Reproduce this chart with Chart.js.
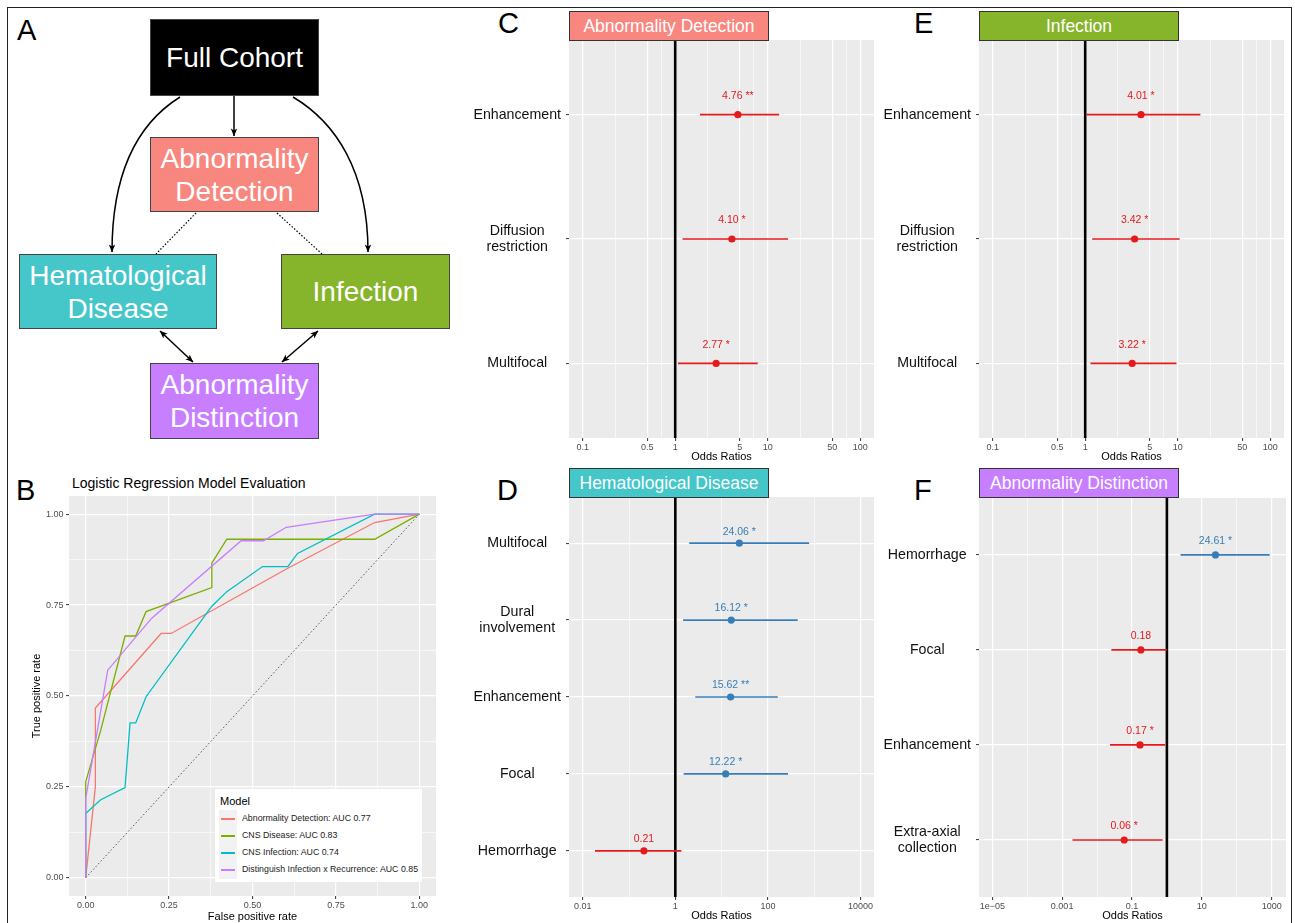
<!DOCTYPE html>
<html>
<head>
<meta charset="utf-8">
<script src="https://cdn.jsdelivr.net/npm/chart.js@4.4.1/dist/chart.umd.min.js"></script>
<style>
  body { margin: 0; background: #fff; font-family: 'Liberation Sans', Arial, Helvetica, sans-serif; }
  #page { position: relative; width: 1295px; height: 923px; overflow: hidden; }
  .frame { position: absolute; left: 7px; top: 7px; width: 1285px; height: 940px; border: 1.5px solid #222; box-sizing: border-box; }
  .tag { position: absolute; font-size: 29px; line-height: 29px; color: #000; }
  .box { position: absolute; box-sizing: border-box; border: 1px solid #444; color: #fff; font-size: 28px; line-height: 33px;
         display: flex; align-items: center; justify-content: center; text-align: center; }
  .strip { position: absolute; box-sizing: border-box; border: 1px solid #333; color: #fff; font-size: 17.5px;
           width: 200px; height: 30px; display: flex; align-items: center; justify-content: center; z-index: 2; }
  canvas { position: absolute; }
  .roc-title { position: absolute; left: 72px; top: 474px; font-size: 14px; line-height: 18px; color: #000; }
  .legend { position: absolute; left: 215px; top: 789px; width: 207px; height: 93px; background: #fff; z-index: 2; }
  .legend .ttl { position: absolute; left: 5px; top: 4px; font-size: 11px; line-height: 16px; }
  .legend .keys { position: absolute; left: 4px; top: 21px; width: 18px; height: 69px; background: #F2F2F2; }
  .legend .row { position: absolute; left: 0; height: 17px; width: 207px; }
  .legend .sw { position: absolute; left: 6px; top: 7.5px; width: 14px; height: 2px; }
  .legend .lbl { position: absolute; left: 27px; top: 0; font-size: 8.8px; line-height: 17px; color: #1a1a1a; white-space: nowrap; }
</style>
</head>
<body>
<div id="page">
  <div class="frame"></div>

  <!-- panel A: study design -->
  <div class="tag" style="left:17px;top:16px">A</div>
  <svg width="470" height="460" style="position:absolute;left:0;top:0;z-index:1">
    <defs>
      <marker id="ah" viewBox="0 0 10 10" refX="9.5" refY="5" markerUnits="userSpaceOnUse"
              markerWidth="8" markerHeight="8" orient="auto-start-reverse">
        <path d="M0,1 L10,5 L0,9 L2.5,5 z" fill="#000"></path>
      </marker>
    </defs>
    <g fill="none" stroke="#000" stroke-width="1.5">
      <path d="M234,96 L234,136" marker-end="url(#ah)"></path>
      <path d="M180,97 C140,122 112,170 112,252" marker-end="url(#ah)"></path>
      <path d="M293,97 C335,122 368,170 368,252" marker-end="url(#ah)"></path>
      <path d="M160,331 L193,362" marker-start="url(#ah)" marker-end="url(#ah)"></path>
      <path d="M318,331 L282,362" marker-start="url(#ah)" marker-end="url(#ah)"></path>
    </g>
    <g fill="none" stroke="#000" stroke-width="1.2" stroke-dasharray="1.5 1.8">
      <path d="M196,213 L156,254"></path>
      <path d="M277,213 L322,254"></path>
    </g>
  </svg>
  <div class="box" style="left:150px;top:19px;width:169px;height:77px;background:#000">Full Cohort</div>
  <div class="box" style="left:150px;top:137px;width:169px;height:75px;background:#F8877F">Abnormality<br>Detection</div>
  <div class="box" style="left:19px;top:254px;width:198px;height:75px;background:#45C6C9">Hematological<br>Disease</div>
  <div class="box" style="left:281px;top:254px;width:169px;height:75px;background:#86B42A">Infection</div>
  <div class="box" style="left:150px;top:363px;width:169px;height:76px;background:#C77EFF">Abnormality<br>Distinction</div>

  <!-- panel B: ROC curves -->
  <div class="tag" style="left:16px;top:476px">B</div>
  <div class="roc-title">Logistic Regression Model Evaluation</div>
  <canvas id="chart-roc" width="410" height="448" style="left:30px;top:476px"></canvas>
  <div class="legend" id="roc-legend"></div>

  <!-- panels C-F: odds ratios -->
  <div class="tag" style="left:498px;top:9px">C</div>
  <div class="strip" style="left:569px;top:11px;background:#F8877F">Abnormality Detection</div>
  <canvas id="chart-c" width="425" height="444" style="left:455px;top:20px"></canvas>

  <div class="tag" style="left:914px;top:9px">E</div>
  <div class="strip" style="left:979px;top:11px;background:#86B42A">Infection</div>
  <canvas id="chart-e" width="425" height="444" style="left:865px;top:20px"></canvas>

  <div class="tag" style="left:497px;top:476px">D</div>
  <div class="strip" style="left:569px;top:468px;background:#45C6C9">Hematological Disease</div>
  <canvas id="chart-d" width="425" height="446" style="left:455px;top:477px"></canvas>

  <div class="tag" style="left:914px;top:476px">F</div>
  <div class="strip" style="left:979px;top:468px;background:#C77EFF">Abnormality Distinction</div>
  <canvas id="chart-f" width="425" height="446" style="left:865px;top:477px"></canvas>
</div>

<script>
// ROC curves (false / true positive rate)
var ROC_NAMES = [
  'Abnormality Detection: AUC 0.77',
  'CNS Disease: AUC 0.83',
  'CNS Infection: AUC 0.74',
  'Distinguish Infection x Recurrence: AUC 0.85',
];
var ROC_COLORS = ['#F8766D', '#7CAE00', '#00BFC4', '#C77CFF'];
var DET_FPR = [0, 0.029, 0.029, 0.226, 0.256, 0.603, 0.866, 1];
var DET_TPR = [0, 0.25, 0.467, 0.672, 0.672, 0.85, 0.977, 1];
var CNS_FPR = [0, 0, 0.044, 0.118, 0.15, 0.181, 0.378, 0.378, 0.423, 0.866, 1];
var CNS_TPR = [0, 0.264, 0.402, 0.665, 0.665, 0.732, 0.798, 0.865, 0.931, 0.931, 1];
var INF_FPR = [0, 0, 0.044, 0.118, 0.133, 0.15, 0.181, 0.378, 0.423, 0.53, 0.606, 0.635, 0.866, 1];
var INF_TPR = [0, 0.177, 0.214, 0.248, 0.426, 0.426, 0.498, 0.747, 0.787, 0.856, 0.856, 0.892, 1, 1];
var REC_FPR = [0, 0, 0.066, 0.198, 0.466, 0.533, 0.601, 0.866, 1];
var REC_TPR = [0, 0.218, 0.571, 0.714, 0.927, 0.927, 0.964, 1, 1];
var ROC_TICKS = [0, 0.25, 0.5, 0.75, 1];
var ROC_TICK_LABELS = ['0.00', '0.25', '0.50', '0.75', '1.00'];

// odds ratios with 95% CI; side: 0 = red, 1 = blue (colour group in the source)
var C_VARS = ['Enhancement', 'Diffusion\nrestriction', 'Multifocal'];
var C_OR = [4.76, 4.10, 2.77];
var C_LO = [1.85, 1.20, 1.07];
var C_HI = [13.3, 16.6, 7.8];
var C_TEXT = ['4.76 **', '4.10 *', '2.77 *'];
var C_SIDE = [0, 0, 0];

var E_VARS = ['Enhancement', 'Diffusion\nrestriction', 'Multifocal'];
var E_OR = [4.01, 3.42, 3.22];
var E_LO = [1.03, 1.19, 1.14];
var E_HI = [17.6, 10.5, 9.7];
var E_TEXT = ['4.01 *', '3.42 *', '3.22 *'];
var E_SIDE = [0, 0, 0];

var D_VARS = ['Multifocal', 'Dural\ninvolvement', 'Enhancement', 'Focal', 'Hemorrhage'];
var D_OR = [24.06, 16.12, 15.62, 12.22, 0.21];
var D_LO = [2.0, 1.47, 2.7, 1.51, 0.0184];
var D_HI = [773, 440, 163, 272, 1.35];
var D_TEXT = ['24.06 *', '16.12 *', '15.62 **', '12.22 *', '0.21'];
var D_SIDE = [1, 1, 1, 1, 0];

var F_VARS = ['Hemorrhage', 'Focal', 'Enhancement', 'Extra-axial\ncollection'];
var F_OR = [24.61, 0.18, 0.17, 0.06];
var F_LO = [2.46, 0.0257, 0.0235, 0.00198];
var F_HI = [877, 1.0, 0.9, 0.753];
var F_TEXT = ['24.61 *', '0.18', '0.17 *', '0.06 *'];
var F_SIDE = [1, 0, 0, 0];

// x axis breaks and limits of the forest plots
var CE_XTICKS = [0.1, 0.5, 1, 5, 10, 50, 100];
var CE_XLABELS = ['0.1', '0.5', '1', '5', '10', '50', '100'];
var CE_XLIM = [0.0711, 141];
var D_XTICKS = [0.01, 1, 100, 10000];
var D_XLABELS = ['0.01', '1', '100', '10000'];
var D_XLIM = [0.00506, 19500];
var F_XTICKS = [1e-5, 0.001, 0.1, 10, 1000];
var F_XLABELS = ['1e\u221205', '0.001', '0.1', '10', '1000'];
var F_XLIM = [4.17e-6, 2570];

var SIDE_COLORS = ['#E41A1C', '#377EB8'];
var FONT = "'Liberation Sans', Arial, Helvetica, sans-serif";

Chart.defaults.font.family = FONT;
Chart.defaults.animation = false;
Chart.defaults.events = [];
Chart.defaults.plugins.legend.display = false;
Chart.defaults.plugins.tooltip.enabled = false;

// grey ggplot panel behind everything
Chart.register({
  id: 'panelBg',
  beforeDraw: function(chart) {
    var a = chart.chartArea, c = chart.ctx;
    c.save();
    c.fillStyle = '#EBEBEB';
    c.fillRect(a.left, a.top, a.right - a.left, a.bottom - a.top);
    c.restore();
  },
});

var orLabels = {
  id: 'orLabels',
  afterDatasetsDraw: function(chart, args, opts) {
    var meta = chart.getDatasetMeta(0);
    var ys = chart.scales.y, c = chart.ctx;
    c.save();
    c.font = '10.5px ' + FONT;
    c.textAlign = 'center';
    c.textBaseline = 'middle';
    opts.texts.forEach(function(t, i) {
      c.fillStyle = opts.colors[i];
      c.fillText(t, meta.data[i].x, ys.getPixelForValue(i + 1 - 0.15));
    });
    c.restore();
  },
};

function near(a, b) { return Math.abs(a - b) < 1e-9 * Math.max(1, Math.abs(b)) || Math.abs(Math.log(a / b)) < 1e-6; }

function majorIndex(v, majors) {
  for (var i = 0; i < majors.length; i++) if (near(v, majors[i])) return i;
  return -1;
}

function makeForest(canvasId, s) {
  var n = s.vars.length;
  var majors = s.xticks;
  var ticks = majors.slice();
  for (var k = 0; k < majors.length - 1; k++) ticks.push(Math.sqrt(majors[k] * majors[k + 1]));
  ticks.sort(function(a, b) { return a - b; });
  var colors = s.side.map(function(v) { return SIDE_COLORS[v]; });

  var datasets = [{
    data: s.or.map(function(v, i) { return { x: v, y: i + 1 }; }),
    showLine: false, pointRadius: 3.6, pointBorderWidth: 0,
    pointBackgroundColor: colors, order: 0,
  }];
  s.lo.forEach(function(lo, i) {
    datasets.push({
      data: [{ x: lo, y: i + 1 }, { x: s.hi[i], y: i + 1 }],
      showLine: true, borderColor: colors[i], borderWidth: 1.7, pointRadius: 0, order: 1,
    });
  });
  datasets.push({
    data: [{ x: 1, y: 0.4 }, { x: 1, y: n + 0.6 }],
    showLine: true, borderColor: '#000', borderWidth: 2.6, pointRadius: 0, order: 2,
  });

  return new Chart(document.getElementById(canvasId), {
    type: 'scatter',
    data: { datasets: datasets },
    plugins: [orLabels],
    options: {
      responsive: false,
      layout: { padding: { top: 20, right: s.padRight, left: 0, bottom: 0 } },
      scales: {
        x: {
          type: 'logarithmic', min: s.xlim[0], max: s.xlim[1], bounds: 'data',
          afterBuildTicks: function(sc) { sc.ticks = ticks.map(function(v) { return { value: v }; }); },
          afterFit: function(sc) { sc.height = 26; },
          border: { display: false },
          grid: {
            color: '#fff',
            lineWidth: function(c) { return c.tick && majorIndex(c.tick.value, majors) < 0 ? 0.6 : 1.2; },
            tickColor: function(c) { return c.tick && majorIndex(c.tick.value, majors) < 0 ? 'rgba(0,0,0,0)' : '#333'; },
            tickLength: 3, tickWidth: 1,
          },
          ticks: {
            autoSkip: false, maxRotation: 0, padding: 1, color: '#4D4D4D', font: { size: 9 },
            callback: function(v) { var i = majorIndex(v, majors); return i >= 0 ? s.xlabels[i] : ''; },
          },
          title: { display: true, text: 'Odds Ratios', color: '#000', font: { size: 11 }, padding: 0 },
        },
        y: {
          type: 'linear', reverse: true, min: 0.4, max: n + 0.6, bounds: 'data',
          afterBuildTicks: function(sc) { sc.ticks = s.vars.map(function(_, i) { return { value: i + 1 }; }); },
          afterFit: function(sc) { sc.width = 114; },
          border: { display: false },
          grid: { color: '#fff', lineWidth: 1.2, tickColor: '#333', tickLength: 3, tickWidth: 1 },
          ticks: {
            autoSkip: false, crossAlign: 'center', padding: 5, color: '#111',
            font: { size: 14.2, lineHeight: 1.12 },
            callback: function(v, i) { return s.vars[i].split('\n'); },
          },
        },
      },
      plugins: { orLabels: { texts: s.text, colors: colors } },
    },
  });
}

function initRoc() {
  var series = [[DET_FPR, DET_TPR], [CNS_FPR, CNS_TPR], [INF_FPR, INF_TPR], [REC_FPR, REC_TPR]];
  var ticks = ROC_TICKS.slice();
  for (var k = 0; k < ROC_TICKS.length - 1; k++) ticks.push((ROC_TICKS[k] + ROC_TICKS[k + 1]) / 2);
  ticks.sort(function(a, b) { return a - b; });

  var datasets = series.map(function(sr, i) {
    return {
      label: ROC_NAMES[i],
      data: sr[0].map(function(x, j) { return { x: x, y: sr[1][j] }; }),
      showLine: true, borderColor: ROC_COLORS[i], borderWidth: 1.3, pointRadius: 0,
      order: series.length - i,
    };
  });
  datasets.push({
    data: [{ x: 0, y: 0 }, { x: 1, y: 1 }],
    showLine: true, borderColor: '#555', borderWidth: 1, borderDash: [1.5, 2.2], pointRadius: 0, order: 10,
  });

  function axis(isX) {
    return {
      type: 'linear', min: -0.05, max: 1.05, bounds: 'data',
      afterBuildTicks: function(sc) { sc.ticks = ticks.map(function(v) { return { value: v }; }); },
      afterFit: function(sc) { if (isX) sc.height = 28; else sc.width = 39; },
      border: { display: false },
      grid: {
        color: '#fff',
        lineWidth: function(c) { return c.tick && majorIndex(c.tick.value, ROC_TICKS) < 0 ? 0.6 : 1.2; },
        tickColor: function(c) { return c.tick && majorIndex(c.tick.value, ROC_TICKS) < 0 ? 'rgba(0,0,0,0)' : '#333'; },
        tickLength: 3, tickWidth: 1,
      },
      ticks: {
        autoSkip: false, maxRotation: 0, padding: isX ? 1 : 2.5, color: '#4D4D4D', font: { size: 9 },
        callback: function(v) { var i = majorIndex(v, ROC_TICKS); return i >= 0 ? ROC_TICK_LABELS[i] : ''; },
      },
      title: { display: true, text: isX ? 'False positive rate' : 'True positive rate', color: '#000', font: { size: 11 }, padding: 0 },
    };
  }

  new Chart(document.getElementById('chart-roc'), {
    type: 'scatter',
    data: { datasets: datasets },
    options: {
      responsive: false,
      layout: { padding: { top: 20, right: 4, left: 0, bottom: 0 } },
      scales: { x: axis(true), y: axis(false) },
    },
  });

  // ggplot-style legend inside the panel
  var lg = document.getElementById('roc-legend');
  var html = '<div class="ttl">Model</div><div class="keys"></div>';
  ROC_NAMES.forEach(function(name, i) {
    html += '<div class="row" style="top:' + (21 + 17 * i) + 'px">' +
      '<div class="sw" style="background:' + ROC_COLORS[i] + '"></div>' +
      '<div class="lbl">' + name + '</div></div>';
  });
  lg.innerHTML = html;
}

function initAll() {
  initRoc();
  makeForest('chart-c', { vars: C_VARS, or: C_OR, lo: C_LO, hi: C_HI, text: C_TEXT, side: C_SIDE,
    xticks: CE_XTICKS, xlabels: CE_XLABELS, xlim: CE_XLIM, padRight: 6 });
  makeForest('chart-e', { vars: E_VARS, or: E_OR, lo: E_LO, hi: E_HI, text: E_TEXT, side: E_SIDE,
    xticks: CE_XTICKS, xlabels: CE_XLABELS, xlim: CE_XLIM, padRight: 6 });
  makeForest('chart-d', { vars: D_VARS, or: D_OR, lo: D_LO, hi: D_HI, text: D_TEXT, side: D_SIDE,
    xticks: D_XTICKS, xlabels: D_XLABELS, xlim: D_XLIM, padRight: 6 });
  makeForest('chart-f', { vars: F_VARS, or: F_OR, lo: F_LO, hi: F_HI, text: F_TEXT, side: F_SIDE,
    xticks: F_XTICKS, xlabels: F_XLABELS, xlim: F_XLIM, padRight: 4 });
}

if (document.readyState === 'loading') {
  document.addEventListener('DOMContentLoaded', initAll);
} else {
  initAll();
}
</script>
</body>
</html>
